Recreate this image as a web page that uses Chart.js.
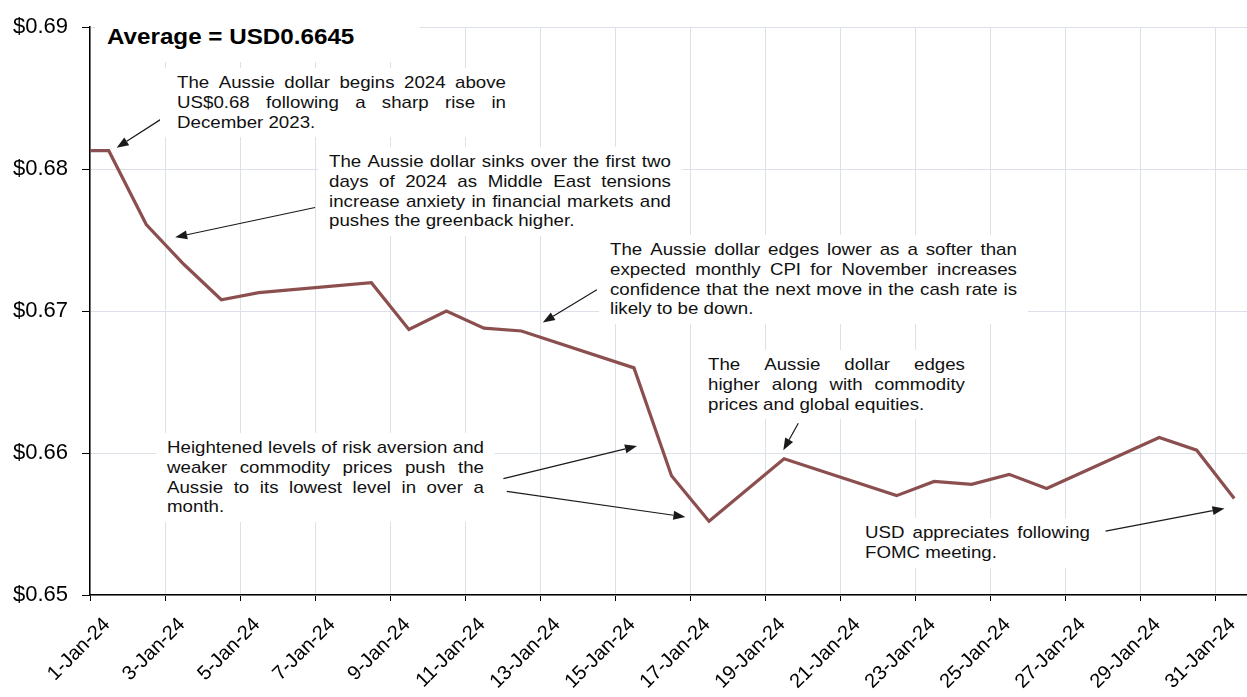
<!DOCTYPE html>
<html>
<head>
<meta charset="utf-8">
<title>AUD/USD January 2024</title>
<script src="https://cdn.jsdelivr.net/npm/chart.js@4/dist/chart.umd.min.js"></script>
<style>
  html, body { margin: 0; padding: 0; background: #fff; overflow: hidden; }
  #wrap { position: relative; width: 1247px; height: 697px; overflow: hidden; }
  #c { position: absolute; left: 0; top: 0; }
  .note {
    position: absolute;
    background: #fff;
    font-family: "Liberation Sans", Arial, sans-serif;
    font-size: 17px;
    color: #111;
    transform: scaleX(1.1);
    transform-origin: left top;
  }
  .note .ln { height: 19.8px; line-height: 19.8px; white-space: nowrap; }
  .note .ln.just { display: flex; justify-content: space-between; }
  #avg {
    position: absolute;
    left: 95px;
    top: 20px;
    width: 325px;
    height: 42px;
    background: #fff;
  }
  #avg span {
    position: absolute;
    left: 12px;
    top: 4px;
    font-family: "Liberation Sans", Arial, sans-serif;
    font-weight: bold;
    font-size: 22px;
    line-height: 26px;
    color: #000;
    white-space: nowrap;
    transform: scaleX(1.1);
    transform-origin: left top;
  }
</style>
</head>
<body>
<div id="wrap">
  <canvas id="c" width="1253" height="697"></canvas>
  <div id="avg"><span>Average = USD0.6645</span></div>
</div>
<script>
// AUD/USD daily closes, Jan 2024 (business days only)
const tradeDates = [
  '31-Dec-23', '1-Jan-24', '2-Jan-24', '3-Jan-24', '4-Jan-24', '5-Jan-24',
  '8-Jan-24', '9-Jan-24', '10-Jan-24', '11-Jan-24', '12-Jan-24',
  '15-Jan-24', '16-Jan-24', '17-Jan-24', '18-Jan-24', '19-Jan-24',
  '22-Jan-24', '23-Jan-24', '24-Jan-24', '25-Jan-24', '26-Jan-24',
  '29-Jan-24', '30-Jan-24', '31-Jan-24'
];
const audUsd = [
  0.6813, 0.6813, 0.6761, 0.6733, 0.6708, 0.6713,
  0.6720, 0.6687, 0.6700, 0.6688, 0.6686,
  0.6660, 0.6584, 0.6552, 0.6574, 0.6596,
  0.6570, 0.6580, 0.6578, 0.6585, 0.6575,
  0.6611, 0.6602, 0.6568
];
const tickLabels = [
  '1-Jan-24', '3-Jan-24', '5-Jan-24', '7-Jan-24', '9-Jan-24', '11-Jan-24',
  '13-Jan-24', '15-Jan-24', '17-Jan-24', '19-Jan-24', '21-Jan-24',
  '23-Jan-24', '25-Jan-24', '27-Jan-24', '29-Jan-24', '31-Jan-24'
];

// arrows: [fromDay, fromValue, toDay, toValue] in chart units
const arrows = [
  [3.00, 0.6837, 1.71, 0.6815],
  [7.00, 0.6773, 3.27, 0.6752],
  [14.51, 0.6715, 13.07, 0.6692],
  [19.88, 0.6621, 19.48, 0.6602],
  [12.02, 0.6582, 15.58, 0.6605],
  [12.11, 0.6573, 16.87, 0.6555],
  [28.07, 0.6545, 31.24, 0.6561]
];

// text boxes: left / centre of first line / width of the text, in page pixels
const notes = [
  { left: 177, mid: 83, width: 329, padL: 17, lines: [
    'The Aussie dollar begins 2024 above',
    'US$0.68 following a sharp rise in',
    'December 2023.'] },
  { left: 329, mid: 162, width: 342, lines: [
    'The Aussie dollar sinks over the first two',
    'days of 2024 as Middle East tensions',
    'increase anxiety in financial markets and',
    'pushes the greenback higher.'] },
  { left: 610, mid: 250, width: 407, lines: [
    'The Aussie dollar edges lower as a softer than',
    'expected monthly CPI for November increases',
    'confidence that the next move in the cash rate is',
    'likely to be down.'] },
  { left: 708, mid: 365, width: 257, lines: [
    'The Aussie dollar edges',
    'higher along with commodity',
    'prices and global equities.'] },
  { left: 167, mid: 448, width: 317, lines: [
    'Heightened levels of risk aversion and',
    'weaker commodity prices push the',
    'Aussie to its lowest level in over a',
    'month.'] },
  { left: 865, mid: 533, width: 225, lines: [
    'USD appreciates following',
    'FOMC meeting.'] }
];

const MONTHS = ['Jan', 'Feb', 'Mar', 'Apr', 'May', 'Jun', 'Jul', 'Aug', 'Sep', 'Oct', 'Nov', 'Dec'];

// day position on the x scale: 1-Jan-24 sits in the middle of the first day slot
function dayPos(label) {
  const [d, m, y] = label.split('-');
  const t = Date.UTC(2000 + Number(y), MONTHS.indexOf(m), Number(d));
  return (t - Date.UTC(2024, 0, 1)) / 86400000 + 1.5;
}

const points = tradeDates.map((d, i) => ({ x: dayPos(d), y: audUsd[i] }));

const arrowPlugin = {
  id: 'arrows',
  afterDatasetsDraw(chart) {
    const { ctx, scales: { x, y } } = chart;
    ctx.save();
    ctx.strokeStyle = '#1a1a1a';
    ctx.fillStyle = '#1a1a1a';
    ctx.lineWidth = 1.2;
    arrows.forEach(([x0, y0, x1, y1]) => {
      const ax = x.getPixelForValue(x0), ay = y.getPixelForValue(y0);
      const bx = x.getPixelForValue(x1), by = y.getPixelForValue(y1);
      const ang = Math.atan2(by - ay, bx - ax);
      const len = 12, half = 4.5;
      const baseX = bx - len * Math.cos(ang), baseY = by - len * Math.sin(ang);
      ctx.beginPath();
      ctx.moveTo(ax, ay);
      ctx.lineTo(baseX, baseY);
      ctx.stroke();
      ctx.beginPath();
      ctx.moveTo(bx, by);
      ctx.lineTo(baseX + half * Math.sin(ang), baseY - half * Math.cos(ang));
      ctx.lineTo(baseX - half * Math.sin(ang), baseY + half * Math.cos(ang));
      ctx.closePath();
      ctx.fill();
    });
    ctx.restore();
  }
};

Chart.defaults.font.family = '"Liberation Sans", Arial, sans-serif';
Chart.defaults.color = '#000';

new Chart(document.getElementById('c'), {
  type: 'line',
  data: {
    datasets: [{
      label: 'AUD/USD',
      data: points,
      borderColor: '#8c4f4f',
      borderWidth: 3.2,
      pointRadius: 0,
      tension: 0,
      fill: false
    }]
  },
  options: {
    responsive: false,
    animation: false,
    devicePixelRatio: 1,
    layout: { padding: { top: 14, right: 0, bottom: 0, left: 0 } },
    plugins: { legend: { display: false }, tooltip: { enabled: false } },
    scales: {
      x: {
        type: 'linear',
        min: 1,
        max: 32,
        // one tick every other day, labelled from tickLabels
        afterBuildTicks(scale) {
          scale.ticks = tickLabels.map((_, i) => ({ value: 1 + 2 * i }));
        },
        afterFit(scale) { scale.height = 102; },
        ticks: {
          autoSkip: false,
          minRotation: 45,
          maxRotation: 45,
          padding: 12,
          labelOffset: 17,
          font: { size: 20 },
          color: '#000',
          callback: (v, i) => tickLabels[i]
        },
        grid: { color: '#dce0e8', lineWidth: 1, tickLength: 6, tickColor: '#000' },
        border: { color: '#000', width: 1.5 }
      },
      y: {
        min: 0.65,
        max: 0.69,
        afterFit(scale) { scale.width = 90; },
        ticks: {
          stepSize: 0.01,
          padding: 14,
          font: { size: 22 },
          color: '#000',
          callback: v => '$' + v.toFixed(2)
        },
        grid: { color: '#dce0e8', lineWidth: 1, tickLength: 8, tickColor: '#000' },
        border: { color: '#000', width: 1.5 }
      }
    }
  },
  plugins: [arrowPlugin]
});

// annotation text boxes (white fill hides the gridlines behind them)
const wrap = document.getElementById('wrap');
const SX = 1.1, PADX = 11, PADY = 5, LH = 19.8;
notes.forEach(n => {
  const padL = n.padL || PADX;
  const box = document.createElement('div');
  box.className = 'note';
  box.style.left = (n.left - padL) + 'px';
  box.style.top = (n.mid - LH / 2 - PADY) + 'px';
  box.style.width = (n.width / SX) + 'px';
  box.style.padding = PADY + 'px ' + (PADX / SX) + 'px ' + PADY + 'px ' + (padL / SX) + 'px';
  n.lines.forEach((line, i) => {
    const ln = document.createElement('div');
    ln.className = 'ln';
    if (i < n.lines.length - 1) {
      ln.classList.add('just');
      line.split(' ').forEach(w => {
        const s = document.createElement('span');
        s.textContent = w;
        ln.appendChild(s);
      });
    } else {
      ln.textContent = line;
    }
    box.appendChild(ln);
  });
  wrap.appendChild(box);
});
</script>
</body>
</html>
